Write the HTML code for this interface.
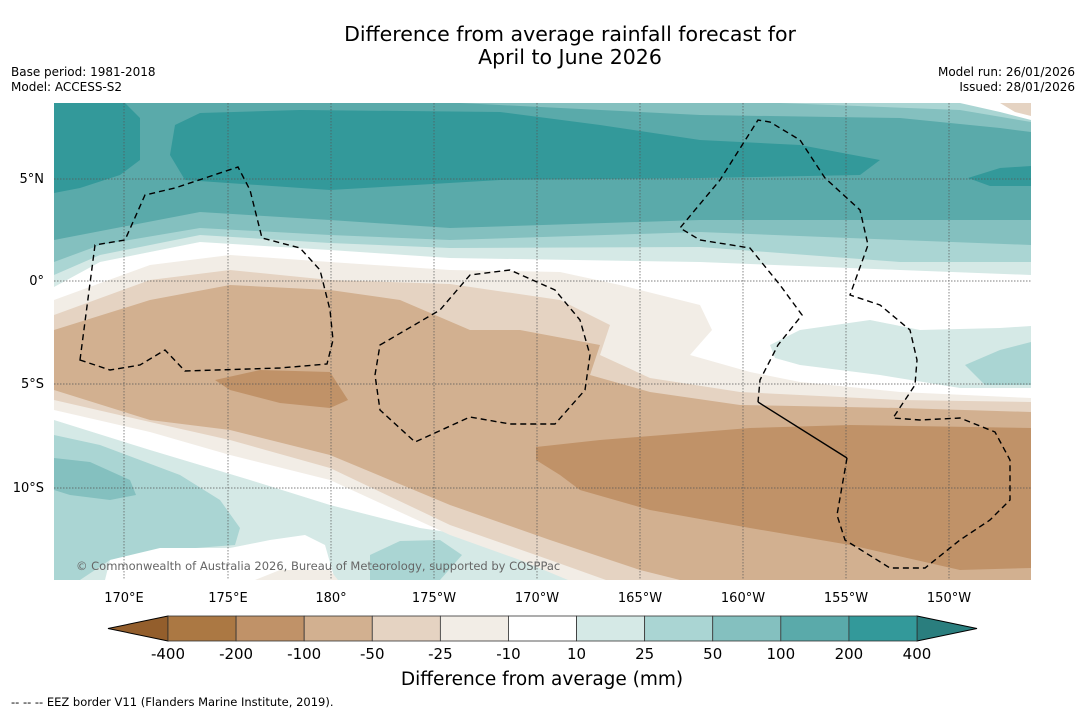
<!DOCTYPE html>
<html><head><meta charset="utf-8"><style>
body{margin:0;background:#fff;width:1085px;height:713px;overflow:hidden;font-family:"DejaVu Sans","Liberation Sans",sans-serif}
svg{display:block}
</style></head><body>
<svg id="chart" width="1085" height="713" xmlns="http://www.w3.org/2000/svg">
<text x="570" y="41" font-size="20.5" text-anchor="middle">Difference from average rainfall forecast for</text>
<text x="570" y="64" font-size="20.5" text-anchor="middle">April to June 2026</text>
<text x="11" y="76" font-size="12">Base period: 1981-2018</text>
<text x="11" y="91" font-size="12">Model: ACCESS-S2</text>
<text x="1075" y="76" font-size="12" text-anchor="end">Model run: 26/01/2026</text>
<text x="1075" y="91" font-size="12" text-anchor="end">Issued: 28/01/2026</text>
<defs><clipPath id="mc"><rect x="54" y="103" width="977" height="477"/></clipPath></defs>
<g clip-path="url(#mc)">
<rect x="54" y="103" width="977" height="477" fill="#fff"/>
<path fill="#d5e9e6" d="M54,103 L1031,103 L1031,275 L900,270 L700,262 L450,258 L330,250 L200,242 L100,262 L54,287Z"/>
<path fill="#aad5d3" d="M54,103 L1031,103 L1031,262 L900,262 L700,247 L450,248 L330,243 L200,235 L100,255 L54,275Z"/>
<path fill="#84c0bf" d="M54,103 L1031,103 L1031,245 L900,240 L700,232 L450,240 L330,235 L200,228 L100,245 L54,262Z"/>
<path fill="#5aaaaa" d="M54,103 L460,103 L700,115 L900,118 L1000,128 L1031,132 L1031,220 L900,220 L700,220 L450,228 L330,220 L200,212 L54,240Z"/>
<path fill="#aad5d3" d="M780,103 L960,110 L1031,122 L1031,103Z"/>
<path fill="#fff" d="M960,103 L1000,112 L1031,120 L1031,103Z"/>
<path fill="#e5d3c2" d="M1000,103 L1015,112 L1031,116 L1031,103Z"/>
<path fill="#33999a" d="M54,103 L125,103 L140,118 L140,160 L120,175 L80,188 L54,193Z"/>
<path fill="#33999a" d="M175,125 L200,113 L300,110 L500,112 L600,125 L700,140 L800,145 L880,160 L860,175 L700,178 L500,180 L330,190 L185,180 L170,155Z"/>
<path fill="#33999a" d="M968,178 L1000,168 L1031,166 L1031,186 L990,186Z"/>
<path fill="#d5e9e6" d="M770,345 L800,330 L870,320 L920,330 L1000,328 L1031,326 L1031,388 L960,388 L880,375 L800,365 L775,358Z"/>
<path fill="#aad5d3" d="M965,365 L1000,350 L1031,342 L1031,385 L985,385Z"/>
<path fill="#d5e9e6" d="M54,420 L150,450 L250,480 L330,505 L420,528 L500,540 L560,555 L640,580 L54,580Z"/>
<path fill="#aad5d3" d="M54,435 L100,445 L180,475 L220,500 L240,528 L235,545 L170,550 L110,560 L80,580 L54,580Z"/>
<path fill="#84c0bf" d="M54,458 L90,462 L130,480 L136,495 L110,500 L70,495 L54,490Z"/>
<path fill="#fff" d="M105,580 L110,560 L160,548 L230,548 L270,540 L305,535 L325,545 L335,580Z"/>
<path fill="#f2ede6" d="M255,580 L280,570 L330,570 L338,580Z"/>
<path fill="#aad5d3" d="M370,555 L400,541 L440,540 L462,555 L440,580 L370,580Z"/>
<path fill="#f2ede6" d="M54,300 L150,265 L230,255 L330,262 L450,270 L560,272 L620,285 L700,305 L712,330 L690,355 L750,372 L800,382 L900,392 L1031,398 L1031,580 L580,585 L520,560 L450,535 L330,480 L230,455 L150,432 L54,410Z"/>
<path fill="#e5d3c2" d="M54,315 L150,280 L230,270 L330,280 L450,284 L560,300 L610,325 L600,355 L650,378 L740,392 L900,400 L1031,402 L1031,585 L620,585 L550,560 L450,525 L330,468 L230,440 L150,422 L54,400Z"/>
<path fill="#d2b090" d="M54,330 L150,300 L230,285 L330,290 L400,300 L470,330 L520,330 L600,345 L590,375 L650,392 L740,405 L900,408 L1031,412 L1031,585 L700,585 L640,570 L550,540 L450,505 L330,455 L230,430 L150,420 L54,390Z"/>
<path fill="#c09268" d="M215,380 L260,370 L330,372 L348,400 L330,408 L280,403 L230,390Z"/>
<path fill="#c09268" d="M536,447 L600,440 L750,428 L850,425 L1031,428 L1031,568 L960,570 L850,545 L750,528 L650,510 L580,490 L560,475 L536,460Z"/>
<g stroke="#555" stroke-width="0.7" stroke-dasharray="1.5,1.5">
<line x1="124" y1="103" x2="124" y2="580"/><line x1="228" y1="103" x2="228" y2="580"/><line x1="331" y1="103" x2="331" y2="580"/><line x1="434" y1="103" x2="434" y2="580"/><line x1="537" y1="103" x2="537" y2="580"/><line x1="640" y1="103" x2="640" y2="580"/><line x1="743" y1="103" x2="743" y2="580"/><line x1="846" y1="103" x2="846" y2="580"/><line x1="949" y1="103" x2="949" y2="580"/>
<line x1="54" y1="179" x2="1031" y2="179"/><line x1="54" y1="281" x2="1031" y2="281"/><line x1="54" y1="384" x2="1031" y2="384"/><line x1="54" y1="488" x2="1031" y2="488"/>
</g>
<g fill="none" stroke="#000" stroke-width="1.4" stroke-dasharray="6,4">
<path d="M80,360 L95,245 L125,240 L145,195 L175,188 L238,167 L250,190 L262,238 L300,248 L320,270 L330,310 L333,340 L327,364 L280,368 L185,371 L165,350 L140,365 L110,370 Z"/>
<path d="M380,345 L440,310 L470,275 L510,270 L555,290 L580,320 L590,355 L585,390 L555,424 L510,424 L470,417 L415,442 L380,410 L375,375 Z"/>
<path d="M847,458 L837,515 L845,540 L890,568 L925,568 L960,540 L990,520 L1010,500 L1010,460 L995,432 L960,418 L920,420 L893,418 L915,385 L917,360 L910,330 L880,305 L850,295 L868,245 L860,210 L825,178 L800,140 L770,122 L758,120 L720,180 L680,228 L700,240 L750,248 L780,285 L802,315 L778,345 L760,380 L758,402"/>
</g>
<path d="M758,402 L847,458" fill="none" stroke="#000" stroke-width="1.4"/>
<text x="76" y="570" font-size="11.5" fill="#666">© Commonwealth of Australia 2026, Bureau of Meteorology, supported by COSPPac</text>
</g>
<g font-size="13">
<text x="44" y="183" text-anchor="end">5°N</text><text x="44" y="285" text-anchor="end">0°</text><text x="44" y="388" text-anchor="end">5°S</text><text x="44" y="492" text-anchor="end">10°S</text>
</g>
<g font-size="13" text-anchor="middle">
<text x="124" y="602">170°E</text><text x="228" y="602">175°E</text><text x="331" y="602">180°</text><text x="434" y="602">175°W</text><text x="537" y="602">170°W</text><text x="640" y="602">165°W</text><text x="743" y="602">160°W</text><text x="846" y="602">155°W</text><text x="949" y="602">150°W</text>
</g>
<g id="cbar"></g>
<text x="542" y="685" font-size="18.5" text-anchor="middle">Difference from average (mm)</text>
<text x="11" y="706" font-size="11.5">--  --  -- EEZ border V11 (Flanders Marine Institute, 2019).</text>
</svg>
<script>
const levels=["-400","-200","-100","-50","-25","-10","10","25","50","100","200","400"];
const colors=["#ab7843","#c09268","#d2b090","#e5d3c2","#f2ede6","#ffffff","#d5e9e6","#aad5d3","#84c0bf","#5aaaaa","#33999a"];
const extColors=["#935e2c","#2a7e7e"];
const NS="http://www.w3.org/2000/svg";
const g=document.getElementById('cbar');
const x0=168,x1=917,y0=616,y1=641;
const w=(x1-x0)/colors.length;
function mk(t,a){const e=document.createElementNS(NS,t);for(const k in a)e.setAttribute(k,a[k]);g.appendChild(e);return e;}
let lt=mk('polygon',{points:`${x0},${y0} ${x0},${y1} 108,${(y0+y1)/2}`,fill:extColors[0],stroke:'#000','stroke-width':1});


let rt=mk('polygon',{points:`${x1},${y0} ${x1},${y1} 977,${(y0+y1)/2}`,fill:extColors[1],stroke:'#000','stroke-width':1});


colors.forEach((c,i)=>{
  const r=mk('rect',{x:x0+i*w,y:y0,width:w,height:y1-y0,fill:c,stroke:'#333','stroke-width':0.8});
  
  
});
levels.forEach((l,i)=>{
  const t=mk('text',{x:x0+i*w,y:659,'font-size':15,'text-anchor':'middle'});
  t.textContent=l;
  
  
});
</script>
</body></html>
